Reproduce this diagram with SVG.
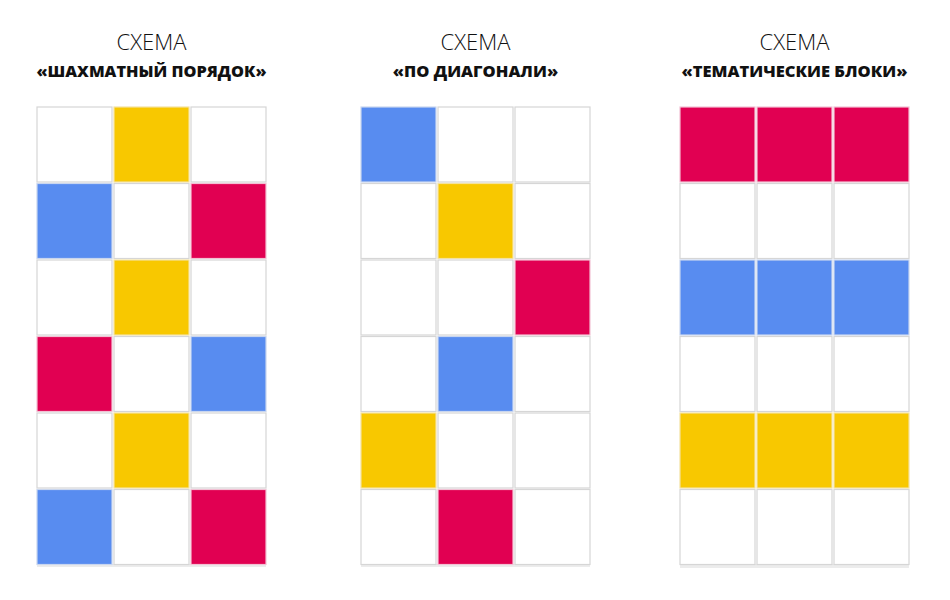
<svg xmlns="http://www.w3.org/2000/svg" width="950" height="600" viewBox="0 0 950 600">
<style>
.t1{font-family:"Open Sans","Liberation Sans",sans-serif;font-weight:300;font-size:22px;fill:#111;text-anchor:middle}
.t2{font-family:"Open Sans","Liberation Sans",sans-serif;font-weight:800;font-size:16.5px;fill:#111;text-anchor:middle}
.w{fill:#ffffff;stroke:#d6d6d6;stroke-width:1.2}
.b{fill:#588cf0;stroke:#c9d6ef;stroke-width:1.2}
.y{fill:#f8c800;stroke:#f3e2a0;stroke-width:1.2}
.r{fill:#e10052;stroke:#f2c1d4;stroke-width:1.2}
.sh{fill:#ececec}
</style>
<rect width="950" height="600" fill="#ffffff"/>

<g id="title1">
<text class="t1" x="151.5" y="49.5">СХЕМА</text>
<text class="t2" x="151.5" y="77" textLength="230" lengthAdjust="spacingAndGlyphs">«ШАХМАТНЫЙ ПОРЯДОК»</text>
</g>
<g id="title2">
<text class="t1" x="475.5" y="49.5">СХЕМА</text>
<text class="t2" x="475.5" y="77">«ПО ДИАГОНАЛИ»</text>
</g>
<g id="title3">
<text class="t1" x="794.5" y="49.5">СХЕМА</text>
<text class="t2" x="794.5" y="77">«ТЕМАТИЧЕСКИЕ БЛОКИ»</text>
</g>

<g id="grid1">
<rect class="sh" x="37" y="564" width="229" height="3"/>
<rect class="w" x="37" y="107" width="75" height="75"/>
<rect class="y" x="114" y="107" width="75" height="75"/>
<rect class="w" x="191" y="107" width="75" height="75"/>
<rect class="b" x="37" y="183.5" width="75" height="75"/>
<rect class="w" x="114" y="183.5" width="75" height="75"/>
<rect class="r" x="191" y="183.5" width="75" height="75"/>
<rect class="w" x="37" y="260" width="75" height="75"/>
<rect class="y" x="114" y="260" width="75" height="75"/>
<rect class="w" x="191" y="260" width="75" height="75"/>
<rect class="r" x="37" y="336.5" width="75" height="75"/>
<rect class="w" x="114" y="336.5" width="75" height="75"/>
<rect class="b" x="191" y="336.5" width="75" height="75"/>
<rect class="w" x="37" y="413" width="75" height="75"/>
<rect class="y" x="114" y="413" width="75" height="75"/>
<rect class="w" x="191" y="413" width="75" height="75"/>
<rect class="b" x="37" y="489.5" width="75" height="75"/>
<rect class="w" x="114" y="489.5" width="75" height="75"/>
<rect class="r" x="191" y="489.5" width="75" height="75"/>
</g>

<g id="grid2">
<rect class="sh" x="361" y="564" width="229" height="3"/>
<rect class="b" x="361" y="107" width="75" height="75"/>
<rect class="w" x="438" y="107" width="75" height="75"/>
<rect class="w" x="515" y="107" width="75" height="75"/>
<rect class="w" x="361" y="183.5" width="75" height="75"/>
<rect class="y" x="438" y="183.5" width="75" height="75"/>
<rect class="w" x="515" y="183.5" width="75" height="75"/>
<rect class="w" x="361" y="260" width="75" height="75"/>
<rect class="w" x="438" y="260" width="75" height="75"/>
<rect class="r" x="515" y="260" width="75" height="75"/>
<rect class="w" x="361" y="336.5" width="75" height="75"/>
<rect class="b" x="438" y="336.5" width="75" height="75"/>
<rect class="w" x="515" y="336.5" width="75" height="75"/>
<rect class="y" x="361" y="413" width="75" height="75"/>
<rect class="w" x="438" y="413" width="75" height="75"/>
<rect class="w" x="515" y="413" width="75" height="75"/>
<rect class="w" x="361" y="489.5" width="75" height="75"/>
<rect class="r" x="438" y="489.5" width="75" height="75"/>
<rect class="w" x="515" y="489.5" width="75" height="75"/>
</g>

<g id="grid3">
<rect class="sh" x="680" y="564" width="229" height="4"/>
<rect class="r" x="680" y="107" width="75" height="75"/>
<rect class="r" x="757" y="107" width="75" height="75"/>
<rect class="r" x="834" y="107" width="75" height="75"/>
<rect class="w" x="680" y="183.5" width="75" height="75"/>
<rect class="w" x="757" y="183.5" width="75" height="75"/>
<rect class="w" x="834" y="183.5" width="75" height="75"/>
<rect class="b" x="680" y="260" width="75" height="75"/>
<rect class="b" x="757" y="260" width="75" height="75"/>
<rect class="b" x="834" y="260" width="75" height="75"/>
<rect class="w" x="680" y="336.5" width="75" height="75"/>
<rect class="w" x="757" y="336.5" width="75" height="75"/>
<rect class="w" x="834" y="336.5" width="75" height="75"/>
<rect class="y" x="680" y="413" width="75" height="75"/>
<rect class="y" x="757" y="413" width="75" height="75"/>
<rect class="y" x="834" y="413" width="75" height="75"/>
<rect class="w" x="680" y="489.5" width="75" height="75"/>
<rect class="w" x="757" y="489.5" width="75" height="75"/>
<rect class="w" x="834" y="489.5" width="75" height="75"/>
</g>
</svg>
